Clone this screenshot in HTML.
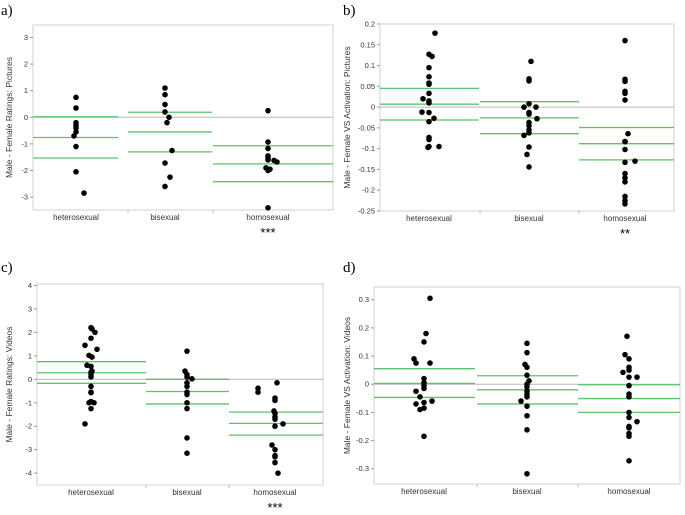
<!DOCTYPE html>
<html><head><meta charset="utf-8"><style>
body{margin:0;background:#fff;}
svg{display:block;font-family:"Liberation Sans",sans-serif;}
</style></head><body>
<svg id="fig" width="685" height="515" viewBox="0 0 685 515"></svg>
<script>
const categories=["heterosexual","bisexual","homosexual"];
// Panel a
const aValues=[[0.75,0.35,-0.2,-0.3,-0.4,-0.55,-0.7,-1.1,-2.05,-2.85],[1.1,0.85,0.48,0.2,0,-0.2,-1.25,-1.72,-2.25,-2.6],[0.25,-0.93,-1.17,-1.45,-1.5,-1.6,-1.62,-1.68,-1.9,-1.95,-2.0,-3.4]];
const aJitter=[[0,0,0,0,0,0,-2,0,0,8],[0,0,0,0,4,2,7,0,5,0],[0,0,0,0,0,0,6,9,-2,2,0,0]];
const aMeans=[[0.02,-0.76,-1.53],[0.19,-0.55,-1.3],[-1.07,-1.75,-2.42]];
const aTicks=[3,2,1,0,-1,-2,-3];
// Panel b
const bValues=[[0.178,0.127,0.122,0.095,0.073,0.058,0.055,0.033,0.02,0.015,0.01,-0.012,-0.013,-0.027,-0.035,-0.073,-0.078,-0.095,-0.097,-0.095],[0.11,0.068,0.063,0.008,0,0,-0.013,-0.017,-0.028,-0.037,-0.045,-0.055,-0.062,-0.068,-0.096,-0.114,-0.144],[0.16,0.067,0.062,0.038,0.033,0.017,-0.064,-0.083,-0.083,-0.102,-0.13,-0.133,-0.16,-0.17,-0.18,-0.215,-0.225,-0.233]];
const bJitter=[[6,0,3,0,0,0,0,0,-6,0,0,-7,0,5,0,0,0,0,-1,10],[2,0,0,0,-5,7,0,0,8,0,0,0,0,-5,0,-2,0],[0,0,0,0,0,0,3,0,0,0,10,0,0,0,0,0,0,0]];
const bMeans=[[0.045,0.007,-0.031],[0.013,-0.026,-0.064],[-0.049,-0.088,-0.127]];
const bTicks=[0.2,0.15,0.1,0.05,0,-0.05,-0.1,-0.15,-0.2,-0.25];
const bTickLabels=["0.2","0.15","0.1","0.05","0","-0.05","-0.1","-0.15","-0.2","-0.25"];
// Panel c
const cValues=[[2.2,2.15,2.0,1.75,1.45,1.28,1.02,0.95,0.6,0.55,0.35,0.3,0.2,0.1,-0.3,-0.55,-0.57,-0.95,-1.0,-1.0,-1.25,-1.9],[1.2,0.35,0.2,0.1,0.02,-0.15,-0.3,-0.55,-0.65,-1.0,-1.25,-2.5,-3.15],[-0.15,-0.38,-0.55,-0.8,-0.9,-1.35,-1.45,-1.6,-1.7,-1.9,-2.0,-2.8,-3.0,-3.25,-3.3,-3.55,-4.0]];
const cJitter=[[0,1,4,0,-6,6,-2,1,-4,0,1,0,0,0,0,0,0,0,3,-2,0,-6],[0,-2,0,0,5,0,0,0,0,0,0,0,0],[2,-17,-17,0,0,-1,0,0,0,8,0,-3,0,0,0,0,3]];
const cMeans=[[0.75,0.28,-0.17],[0.0,-0.52,-1.05],[-1.4,-1.88,-2.38]];
const cTicks=[4,3,2,1,0,-1,-2,-3,-4];
// Panel d
const dValues=[[0.305,0.18,0.15,0.09,0.075,0.075,0.02,0.005,-0.005,-0.015,-0.025,-0.045,-0.06,-0.065,-0.07,-0.085,-0.09,-0.185],[0.145,0.112,0.07,0.06,0.032,0.012,0,-0.01,-0.025,-0.035,-0.045,-0.06,-0.078,-0.112,-0.162,-0.318],[0.17,0.105,0.09,0.06,0.05,0.042,0.025,0.025,-0.005,-0.035,-0.045,-0.1,-0.118,-0.133,-0.15,-0.155,-0.175,-0.185,-0.272]];
const dJitter=[[6,2,0,-10,-8,6,0,0,0,0,-8,-4,8,0,-8,0,-4,0],[0,0,-2,0,0,2,0,0,0,0,0,-6,0,0,0,0],[-2,-4,0,0,0,-6,0,8,0,0,0,0,0,8,0,0,0,0,0]];
const dMeans=[[0.055,0.003,-0.047],[0.03,-0.02,-0.07],[-0.002,-0.051,-0.1]];
const dTicks=[0.3,0.2,0.1,0,-0.1,-0.2,-0.3];
const dTickLabels=["0.3","0.2","0.1","0","-0.1","-0.2","-0.3"];

const NS="http://www.w3.org/2000/svg";
const svg=document.getElementById('fig');
function mk(tag,attrs,parent){const e=document.createElementNS(NS,tag);for(const k in attrs)e.setAttribute(k,attrs[k]);(parent||svg).appendChild(e);return e;}

function panel(cfg){
  const g=mk('g',{});
  
  
  const y=v=>cfg.y0-v*cfg.k;
  const lab=mk('text',{x:cfg.lx,y:cfg.ly,'font-family':'Liberation Serif, serif','font-size':15,fill:'#000'},g);
  lab.textContent=cfg.id+')';
  
  
  const fr=mk('rect',{x:cfg.L,y:cfg.T,width:cfg.R-cfg.L,height:cfg.B-cfg.T,fill:'none',stroke:'#d0d0d0','stroke-width':1},g);
  
  
  const zl=mk('line',{x1:cfg.L,x2:cfg.R,y1:y(0),y2:y(0),stroke:'#b8b8b8','stroke-width':1},g);
  
  
  cfg.ticks.forEach((t,i)=>{
    const tl=mk('line',{x1:cfg.L-3,x2:cfg.L,y1:y(t),y2:y(t),stroke:'#999'},g);
    
    
    const tx=mk('text',{x:cfg.L-5,y:y(t)+2.5,'text-anchor':'end','font-size':7.5,fill:'#333'},g);
    tx.textContent=cfg.tickLabels?cfg.tickLabels[i]:String(t);
    
    
  });
  const yt=mk('text',{x:cfg.tx,y:(cfg.T+cfg.B)/2,'text-anchor':'middle','font-size':8.5,fill:'#333',transform:`rotate(-90 ${cfg.tx} ${(cfg.T+cfg.B)/2})`},g);
  yt.textContent=cfg.title;
  
  
  categories.forEach((c,gi)=>{
    const [x1,x2]=cfg.seg[gi];
    if(gi>0){const sep=mk('line',{x1:x1,x2:x1,y1:cfg.B,y2:cfg.B+3,stroke:'#bbb'},g);
      
      }
    cfg.means[gi].forEach(m=>{
      const ml=mk('line',{x1:x1,x2:x2,y1:y(m),y2:y(m),stroke:'#5cc26e','stroke-width':1.3},g);
      
      
    });
    cfg.values[gi].forEach((v,i)=>{
      const d=mk('circle',{cx:cfg.cx[gi]+cfg.jitter[gi][i],cy:y(v),r:2.8,fill:'#000'},g);
      
      
    });
    const cl=mk('text',{x:cfg.cx[gi],y:cfg.B+10,'text-anchor':'middle','font-size':8,fill:'#333'},g);
    cl.textContent=c;
    
    
  });
  if(cfg.sig){const s=mk('text',{x:cfg.cx[2],y:cfg.B+27,'text-anchor':'middle','font-size':13,fill:'#000'},g);
    s.textContent=cfg.sig;
    
    }
}

panel({id:'a',lx:1,ly:15,L:33,R:333,T:25,B:210,y0:117.3,k:26.6,ticks:aTicks,title:'Male - Female Ratings: Pictures',tx:12,
  seg:[[33,118],[128,212],[213,333]],cx:[76,165,268],values:aValues,jitter:aJitter,means:aMeans,sig:'***'});
panel({id:'b',lx:343,ly:15,L:380,R:674,T:24,B:211,y0:107.1,k:415.6,ticks:bTicks,tickLabels:bTickLabels,title:'Male - Female VS Activation: Pictures',tx:350,
  seg:[[380,479],[480,579],[579,674]],cx:[429,529,625],values:bValues,jitter:bJitter,means:bMeans,sig:'**'});
panel({id:'c',lx:1,ly:272,L:37,R:323,T:284,B:485,y0:379.3,k:23.46,ticks:cTicks,title:'Male - Female Ratings: Videos',tx:12,
  seg:[[37,146],[146,229],[229,323]],cx:[91,187,275],values:cValues,jitter:cJitter,means:cMeans,sig:'***'});
panel({id:'d',lx:343,ly:272,L:374,R:680,T:287,B:484,y0:384.2,k:281.7,ticks:dTicks,tickLabels:dTickLabels,title:'Male - Female VS Activation: Videos',tx:350,
  seg:[[374,475],[477,578],[578,680]],cx:[424,527,629],values:dValues,jitter:dJitter,means:dMeans,sig:''});
</script>
</body></html>
